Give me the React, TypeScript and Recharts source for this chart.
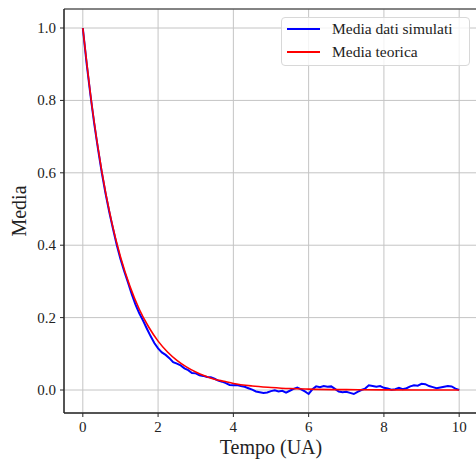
import React from 'react';
import { LineChart, Line, XAxis, YAxis, CartesianGrid, ReferenceArea, Legend } from 'recharts';

// simulated mean (step 0.1)
const simT = [
  0, 0.1, 0.2, 0.3, 0.4, 0.5, 0.6, 0.7, 0.8, 0.9,
  1.0, 1.1, 1.2, 1.3, 1.4, 1.5, 1.6, 1.7, 1.8, 1.9,
  2.0, 2.1, 2.2, 2.3, 2.4, 2.5, 2.6, 2.7, 2.8, 2.9,
  3.0, 3.1, 3.2, 3.3, 3.4, 3.5, 3.6, 3.7, 3.8, 3.9,
  4.0, 4.1, 4.2, 4.3, 4.4, 4.5, 4.6, 4.7, 4.8, 4.9,
  5.0, 5.1, 5.2, 5.3, 5.4, 5.5, 5.6, 5.7, 5.8, 5.9,
  6.0, 6.1, 6.2, 6.3, 6.4, 6.5, 6.6, 6.7, 6.8, 6.9,
  7.0, 7.1, 7.2, 7.3, 7.4, 7.5, 7.6, 7.7, 7.8, 7.9,
  8.0, 8.1, 8.2, 8.3, 8.4, 8.5, 8.6, 8.7, 8.8, 8.9,
  9.0, 9.1, 9.2, 9.3, 9.4, 9.5, 9.6, 9.7, 9.8, 9.9,
  10.0,
];
const simMean = [
  1.0, 0.903, 0.817, 0.738, 0.668, 0.603, 0.545, 0.493, 0.446, 0.401,
  0.362, 0.328, 0.297, 0.265, 0.236, 0.212, 0.192, 0.17, 0.149, 0.13,
  0.115, 0.104, 0.097, 0.088, 0.077, 0.073, 0.068, 0.06, 0.055, 0.047,
  0.046, 0.041, 0.039, 0.036, 0.035, 0.031, 0.026, 0.023, 0.019, 0.014,
  0.013, 0.014, 0.011, 0.009, 0.005, 0.001, -0.004, -0.006, -0.008, -0.007,
  -0.003, -0.001, -0.004, -0.002, -0.007, -0.002, 0.003, 0.007, 0.002, -0.004,
  -0.011, 0.002, 0.01, 0.008, 0.011, 0.009, 0.01, 0.003, -0.004, -0.006,
  -0.005, -0.008, -0.011, -0.005, 0.0, 0.004, 0.013, 0.011, 0.009, 0.011,
  0.006, 0.004, 0.001, 0.002, 0.006, 0.002, 0.005, 0.01, 0.013, 0.012,
  0.017, 0.016, 0.011, 0.008, 0.005, 0.007, 0.009, 0.011, 0.01, 0.004,
  0.0,
];

// theoretical mean
const theoT = [0, 0.25, 0.5, 0.75, 1, 1.25, 1.5, 1.75, 2, 2.25, 2.5, 2.75, 3, 3.25, 3.5, 3.75, 4, 4.5, 5, 5.5, 6, 7, 8, 9, 10];
const theoMean = [1.0, 0.779, 0.607, 0.472, 0.368, 0.287, 0.223, 0.174, 0.135, 0.105, 0.082, 0.064, 0.05, 0.039, 0.03, 0.024, 0.018, 0.011, 0.007, 0.004, 0.0025, 0.001, 0.0003, 0.0001, 0.0];

const xTicks = [0, 2, 4, 6, 8, 10];
const yTicks = [0, 0.2, 0.4, 0.6, 0.8, 1.0];

const simData = simT.map((t, i) => ({ t, v: simMean[i] }));
const theoData = theoT.map((t, i) => ({ t, v: theoMean[i] }));

const FONT = '"Liberation Serif", "DejaVu Serif", serif';
const X_DOMAIN: [number, number] = [-0.5, 10.5];
const Y_DOMAIN: [number, number] = [-0.0635, 1.0525];

const XTick = ({ x, y, payload }: any) => (
  <text x={x} y={y + 12} textAnchor="middle" fontFamily={FONT} fontSize={15} fill="#222">
    {String(payload.value)}
  </text>
);

const YTick = ({ x, y, payload }: any) => (
  <text x={x} y={y + 5} textAnchor="end" fontFamily={FONT} fontSize={15} fill="#222">
    {Number(payload.value).toFixed(1)}
  </text>
);

const LegendBox = () => (
  <div
    style={{
      position: 'absolute',
      left: 281,
      top: 17,
      width: 189,
      height: 49,
      boxSizing: 'border-box',
      border: '1px solid #d8d8d8',
      borderRadius: 4,
      background: 'rgba(255,255,255,0.8)',
      fontFamily: FONT,
      fontSize: 15.5,
      color: '#222',
    }}
  >
    {[
      { name: 'Media dati simulati', color: '#0000ff', y: 11 },
      { name: 'Media teorica', color: '#ff0000', y: 34 },
    ].map(e => (
      <div key={e.name} style={{ position: 'absolute', left: 5, top: e.y - 9, height: 18, display: 'flex', alignItems: 'center' }}>
        <span style={{ width: 33, height: 2, background: e.color, display: 'inline-block' }} />
        <span style={{ marginLeft: 12, whiteSpace: 'nowrap' }}>{e.name}</span>
      </div>
    ))}
  </div>
);

export default function App() {
  return (
    <div style={{ position: 'absolute', left: 0, top: 0, width: 476, height: 463, overflow: 'hidden', background: '#fff', fontFamily: FONT }}>
      <LineChart width={490} height={463} margin={{ top: 9, right: 12, left: 0, bottom: 0 }}>
        <CartesianGrid stroke="#c4c4c4" strokeWidth={1} />
        <XAxis
          type="number"
          dataKey="t"
          domain={X_DOMAIN}
          ticks={xTicks}
          allowDataOverflow
          height={50}
          stroke="#262626"
          tickSize={4}
          tickMargin={3}
          tick={XTick}
          label={{ value: 'Tempo (UA)', position: 'insideBottom', offset: 9, fill: '#222', fontSize: 20, fontFamily: FONT }}
        />
        <YAxis
          type="number"
          dataKey="v"
          domain={Y_DOMAIN}
          ticks={yTicks}
          allowDataOverflow
          width={64}
          stroke="#262626"
          tickSize={4}
          tickMargin={4}
          tick={YTick}
          label={{ value: 'Media', angle: -90, position: 'insideLeft', offset: 19, fill: '#222', fontSize: 20, fontFamily: FONT, style: { textAnchor: 'middle' } }}
        />
        <ReferenceArea x1={X_DOMAIN[0]} x2={X_DOMAIN[1]} y1={Y_DOMAIN[0]} y2={Y_DOMAIN[1]} fill="none" stroke="#262626" strokeWidth={1} ifOverflow="visible" />
        <Line data={simData} dataKey="v" type="linear" stroke="#0000ff" strokeWidth={2} dot={false} isAnimationActive={false} name="Media dati simulati" />
        <Line data={theoData} dataKey="v" type="monotone" stroke="#ff0000" strokeWidth={1.6} dot={false} isAnimationActive={false} name="Media teorica" />
        <Legend content={() => null} />
      </LineChart>
      <LegendBox />
    </div>
  );
}
